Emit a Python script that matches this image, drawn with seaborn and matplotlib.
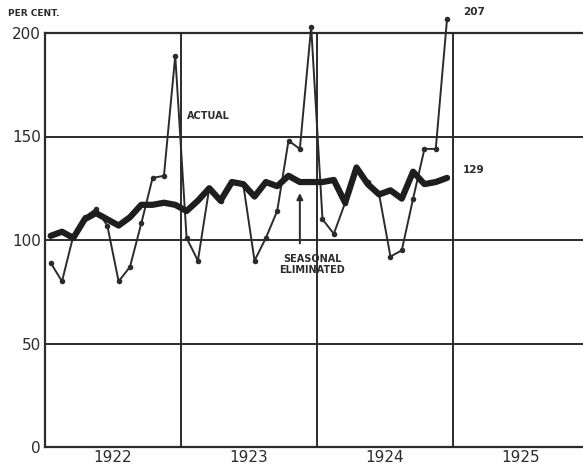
import numpy as np
import pandas as pd
import matplotlib
matplotlib.use("Agg")
import matplotlib.pyplot as plt
import seaborn as sns

# --- Data (monthly index numbers, Jan 1922 - Dec 1924) ---
YEARS = ["1922", "1923", "1924", "1925"]
ACTUAL = [89, 80, 102, 111, 115, 107, 80, 87, 108, 130, 131, 189,
          101, 90, 125, 119, 128, 127, 90, 101, 114, 148, 144, 203,
          110, 103, 118, 135, 128, 122, 92, 95, 120, 144, 144, 207]
SEASONAL = [102, 104, 101, 110, 113, 110, 107, 111, 117, 117, 118, 117,
            114, 119, 125, 119, 128, 127, 121, 128, 126, 131, 128, 128,
            128, 129, 118, 135, 127, 122, 124, 120, 133, 127, 128, 130]
Y_TICKS = [0, 50, 100, 150, 200]

INK = "#2b2b2b"

df = pd.DataFrame({
    "month": np.arange(len(ACTUAL)) + 0.5,
    "actual": ACTUAL,
    "seasonal": SEASONAL,
})

sns.set_style("white")
plt.rcParams["font.family"] = ["DejaVu Sans"]

fig = plt.figure(figsize=(5.83, 4.68), dpi=100)
ax = fig.add_axes([45 / 583, 21 / 468, 538 / 583, 414 / 468])

# grid (year boundaries and every 50 per cent)
for yv in Y_TICKS[1:-1]:
    ax.axhline(yv, color=INK, lw=1.4, zorder=1)
for xv in [12, 24, 36]:
    ax.axvline(xv, color=INK, lw=1.4, zorder=1)

sns.lineplot(data=df, x="month", y="actual", ax=ax, color=INK, lw=1.4,
             marker="o", markersize=4, markeredgewidth=0, zorder=3, clip_on=False)
sns.lineplot(data=df, x="month", y="seasonal", ax=ax, color="#1e1e1e", lw=4.5,
             solid_joinstyle="round", zorder=4, clip_on=False)

ax.set_xlim(0, 47.5)
ax.set_ylim(0, 200)
ax.set_xlabel("")
ax.set_ylabel("")

ax.set_yticks(Y_TICKS)
ax.set_yticklabels([str(v) for v in Y_TICKS], fontsize=11, color=INK)
ax.set_xticks([6, 18, 30, 42])
ax.set_xticklabels(YEARS, fontsize=11, color=INK)
ax.tick_params(axis="both", length=0)
ax.tick_params(axis="x", pad=2)
ax.tick_params(axis="y", pad=3)

for side in ["left", "bottom", "top"]:
    ax.spines[side].set_visible(True)
    ax.spines[side].set_color(INK)
    ax.spines[side].set_linewidth(1.6)
ax.spines["right"].set_visible(False)

# annotations
fig.text(8 / 583, 1 - 16 / 468, "PER CENT.", fontsize=6.5, fontweight="bold", color=INK)
ax.text(12.5, 160, "ACTUAL", fontsize=7, fontweight="bold", color=INK, va="center")
ax.text(23.6, 88, "SEASONAL\nELIMINATED", fontsize=7, fontweight="bold", color=INK,
        ha="center", va="center", linespacing=1.1)
ax.annotate("", xy=(22.5, 124), xytext=(22.5, 97),
            arrowprops=dict(arrowstyle="-|>", color=INK, lw=1.4, mutation_scale=9))
ax.text(36.9, 210, "207", fontsize=7.5, fontweight="bold", color=INK, va="center",
        clip_on=False)
ax.text(36.9, 134, "129", fontsize=7.5, fontweight="bold", color=INK, va="center")

plt.savefig("out.png", dpi=100)
